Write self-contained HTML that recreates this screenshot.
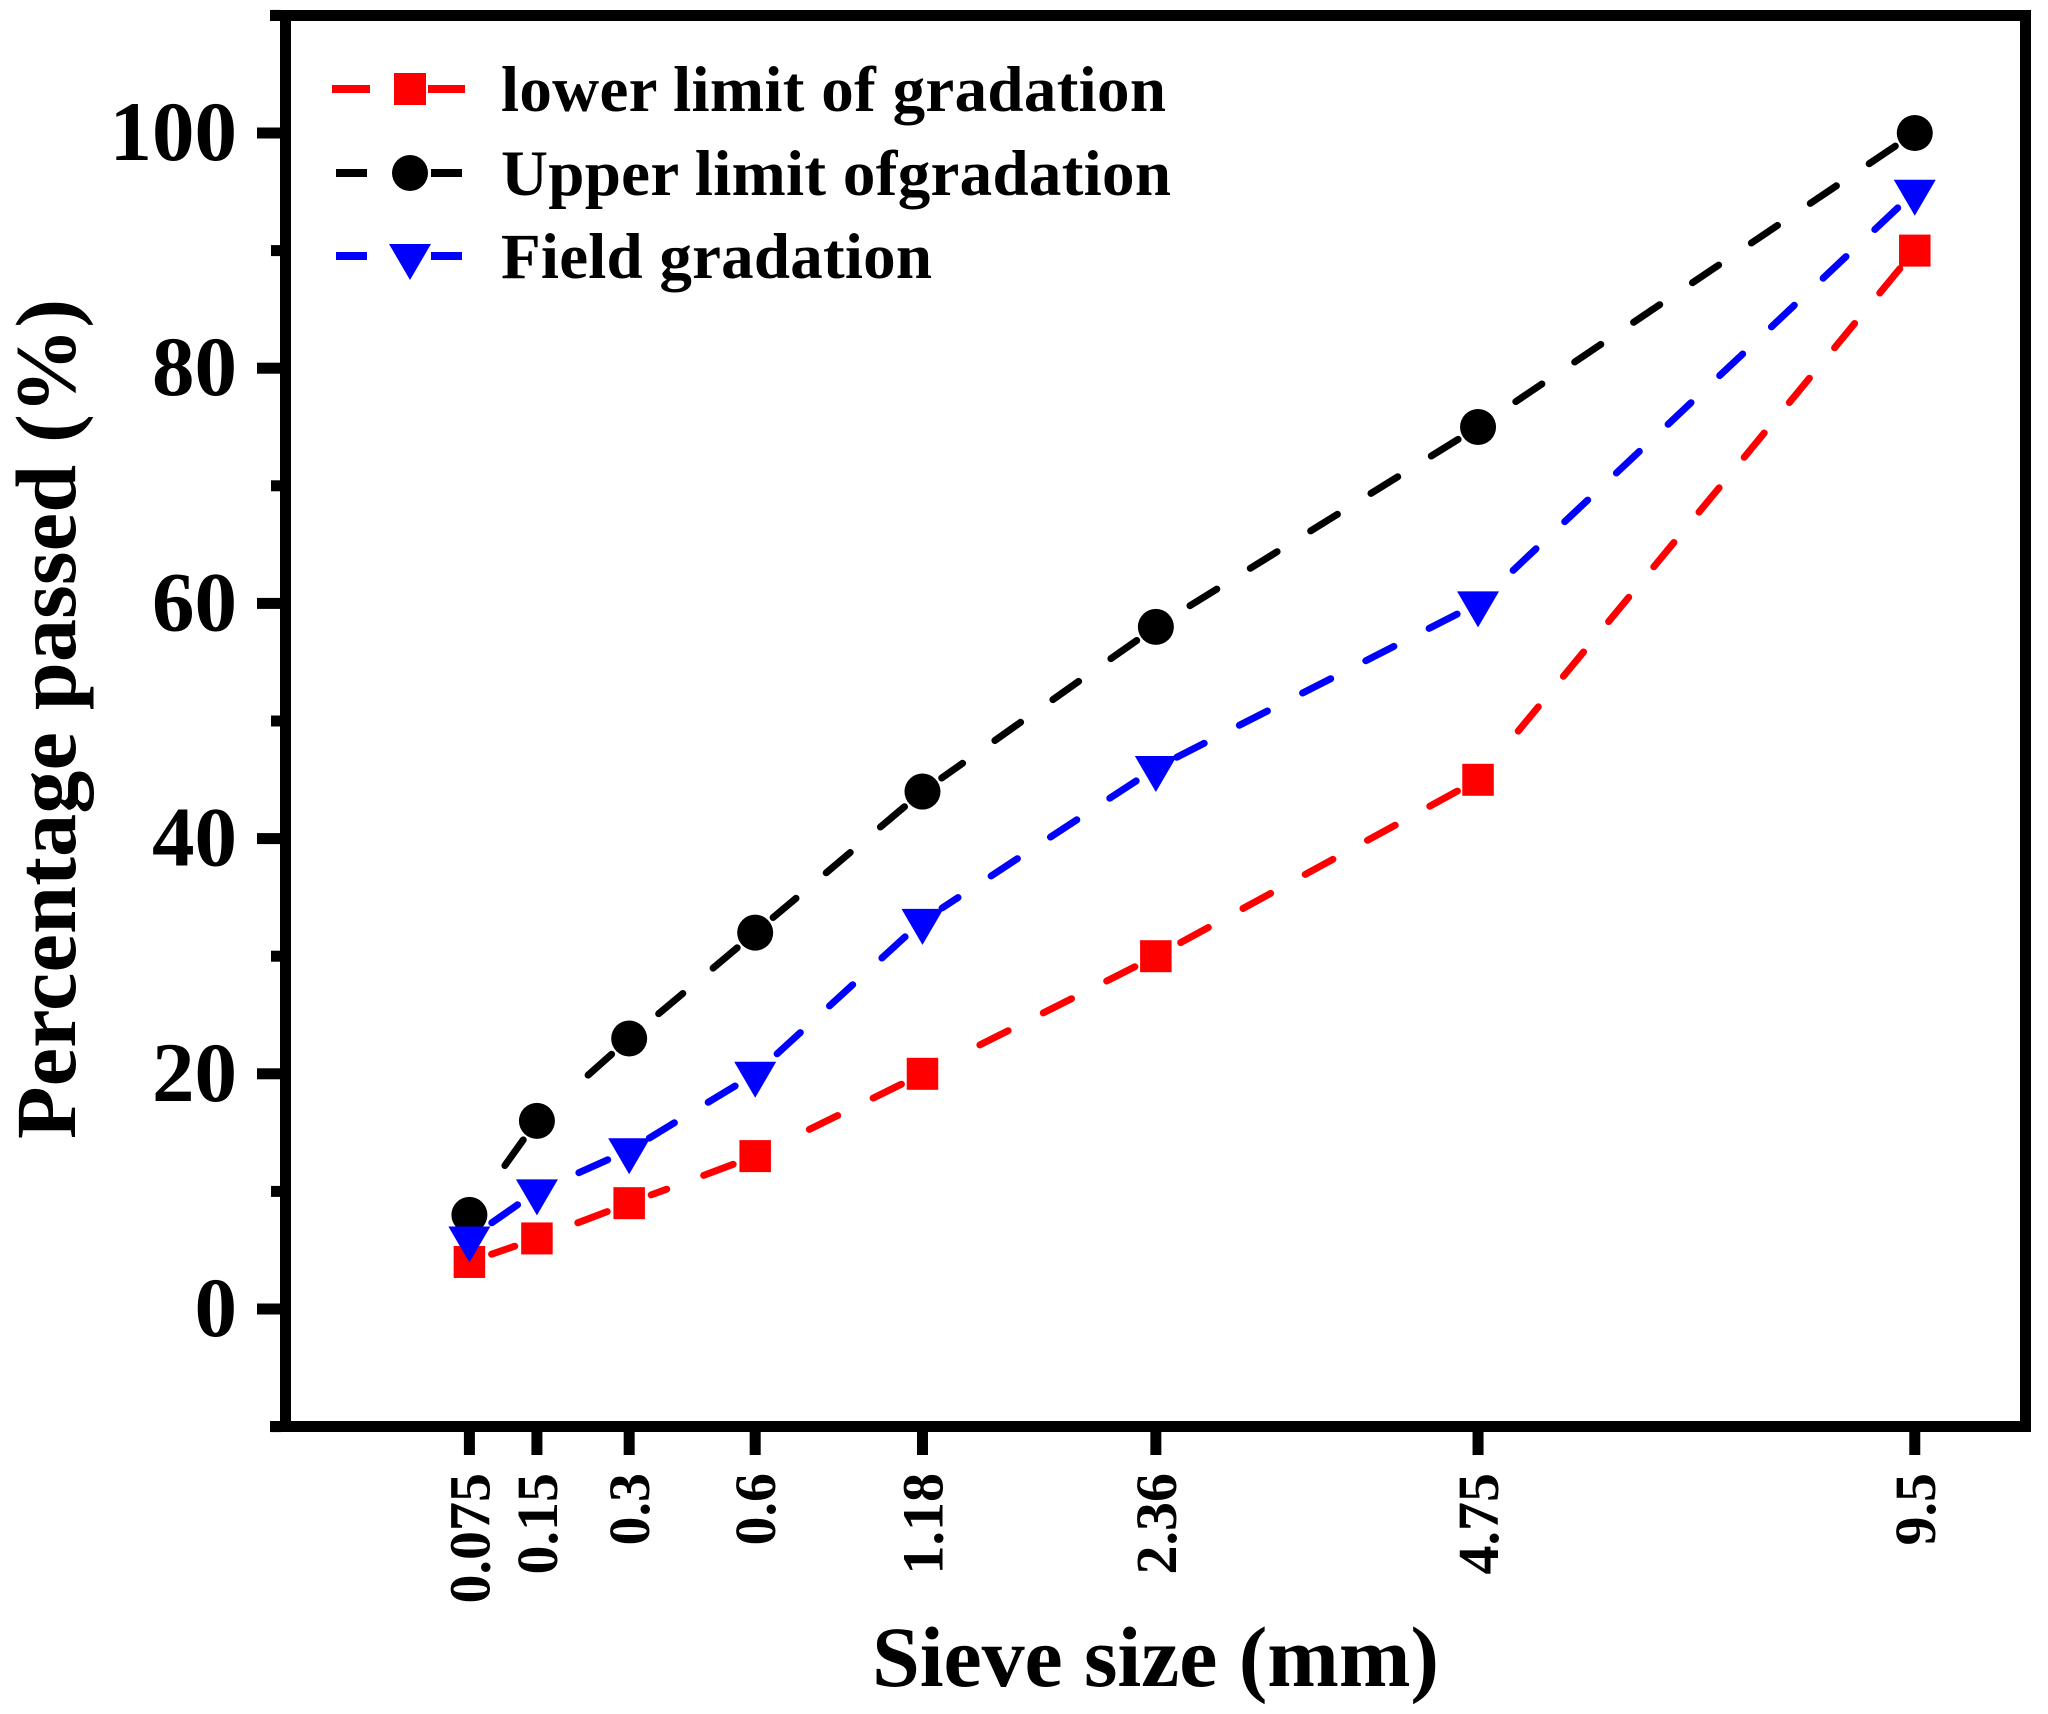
<!DOCTYPE html>
<html lang="en">
<head>
<meta charset="utf-8">
<title>Gradation chart</title>
<style>
html,body{margin:0;padding:0;background:#fff;width:2048px;height:1714px;overflow:hidden}
svg{display:block}
text{font-family:"Liberation Serif",serif;font-weight:bold;fill:#000}
</style>
</head>
<body>
<svg id="chart" xmlns="http://www.w3.org/2000/svg" width="2048" height="1714" viewBox="0 0 2048 1714">
  <rect x="0" y="0" width="2048" height="1714" fill="#fff"/>
  <g id="series-layer"></g>
  <g id="frame"></g>
  <g id="x-axis"></g>
  <g id="y-axis"></g>
  <text x="872" y="1686" font-size="86" textLength="567">Sieve size (mm)</text>
  <text transform="translate(75,1139) rotate(-90)" x="0" y="0" font-size="86" textLength="840">Percentage passed (%)</text>
  <g id="legend">
    <g>
      <rect x="332" y="85" width="38" height="8" fill="#f00"/>
      <rect x="428" y="85" width="37" height="8" fill="#f00"/>
      <rect x="394" y="73" width="32" height="32" fill="#f00"/>
      <text x="501" y="111" font-size="65" textLength="665">lower limit of gradation</text>
    </g>
    <g>
      <rect x="336" y="169" width="31" height="8" fill="#000"/>
      <rect x="431" y="169" width="31" height="8" fill="#000"/>
      <circle cx="410" cy="173" r="18" fill="#000"/>
      <text x="501" y="195" font-size="65" textLength="670">Upper limit ofgradation</text>
    </g>
    <g>
      <rect x="336" y="252" width="31" height="8" fill="#00f"/>
      <rect x="431" y="252" width="31" height="8" fill="#00f"/>
      <polygon points="389,244 431,244 410,280" fill="#00f"/>
      <text x="501" y="278" font-size="65" textLength="431">Field gradation</text>
    </g>
  </g>
</svg>
<script>
// Chart data
const sieveSizes = [0.075, 0.15, 0.3, 0.6, 1.18, 2.36, 4.75, 9.5];
const sieveLabels = ["0.075", "0.15", "0.3", "0.6", "1.18", "2.36", "4.75", "9.5"];
const lowerLimit = [4, 6, 9, 13, 20, 30, 45, 90];
const upperLimit = [8, 16, 23, 32, 44, 58, 75, 100];
const fieldGradation = [6, 10, 13.5, 20, 33, 46, 60, 95];
const yMajorTicks = [0, 20, 40, 60, 80, 100];
const yMinorTicks = [-10, 10, 30, 50, 70, 90, 110];

// Axis functions (x axis uses the 0.45-power gradation scale)
function xScale(d) {
  return 469.4 + 591.8 * (Math.pow(d, 0.45) - Math.pow(sieveSizes[0], 0.45));
}
function yScale(v) {
  return 1309 - 11.76 * v;
}

const NS = "http://www.w3.org/2000/svg";
function make(tag, attrs, parent) {
  const el = document.createElementNS(NS, tag);
  for (const k in attrs) el.setAttribute(k, attrs[k]);
  parent.appendChild(el);
  return el;
}

// Frame
const frame = document.getElementById("frame");
const frameTop = make("rect", {x: 270, y: 10, width: 1761, height: 11, fill: "#000"}, frame);


const frameBottom = make("rect", {x: 270, y: 1421, width: 1761, height: 11, fill: "#000"}, frame);


const frameLeft = make("rect", {x: 280, y: 10, width: 11, height: 1422, fill: "#000"}, frame);


const frameRight = make("rect", {x: 2020, y: 10, width: 11, height: 1422, fill: "#000"}, frame);



// Y axis
const yAxis = document.getElementById("y-axis");
yMajorTicks.forEach(function (v) {
  const y = yScale(v);
  const tick = make("rect", {x: 257, y: y - 5.5, width: 24, height: 11, fill: "#000"}, yAxis);
  
  
  const label = make("text", {x: 237, y: y + 27, "font-size": 85, "text-anchor": "end"}, yAxis);
  
  
  label.textContent = String(v);
});
yMinorTicks.forEach(function (v) {
  const tick = make("rect", {x: 271, y: yScale(v) - 5.5, width: 10, height: 11, fill: "#000"}, yAxis);
  
  
});

// X axis
const xAxis = document.getElementById("x-axis");
sieveSizes.forEach(function (d, i) {
  const x = xScale(d);
  const tick = make("rect", {x: x - 5.5, y: 1431, width: 11, height: 24, fill: "#000"}, xAxis);
  
  
  const label = make("text", {transform: "translate(" + (x + 20) + ",1473) rotate(-90)", x: 0, y: 0, "font-size": 58, "text-anchor": "end"}, xAxis);
  
  
  label.textContent = sieveLabels[i];
});

// Dashes: anchored to each segment's end and clipped at the marker gap
const DASH = 31.5, PERIOD = 71, GAP = 23.5, MIN_DASH = 8;
function dashPath(values) {
  let d = "";
  for (let i = 0; i < values.length - 1; i++) {
    const ax = xScale(sieveSizes[i]), ay = yScale(values[i]);
    const bx = xScale(sieveSizes[i + 1]), by = yScale(values[i + 1]);
    const L = Math.hypot(bx - ax, by - ay);
    const ux = (bx - ax) / L, uy = (by - ay) / L;
    for (let e = L - GAP; e > GAP; e -= PERIOD) {
      const s = Math.max(e - DASH, GAP);
      if (e - s < MIN_DASH) continue;
      d += "M" + (ax + ux * s).toFixed(1) + " " + (ay + uy * s).toFixed(1) +
           "L" + (ax + ux * e).toFixed(1) + " " + (ay + uy * e).toFixed(1);
    }
  }
  return d;
}

const layer = document.getElementById("series-layer");

function drawLine(values, color, parent) {
  return make("path", {d: dashPath(values), fill: "none", stroke: color, "stroke-width": 7, "stroke-linecap": "round"}, parent);
}

// Lower limit series
const lowerGroup = make("g", {}, layer);


const lowerLine = drawLine(lowerLimit, "#f00", lowerGroup);



// Upper limit series
const upperGroup = make("g", {}, layer);


const upperLine = drawLine(upperLimit, "#000", upperGroup);



// Field series
const fieldGroup = make("g", {}, layer);


const fieldLine = drawLine(fieldGradation, "#00f", fieldGroup);



// Markers
lowerLimit.forEach(function (v, i) {
  const x = xScale(sieveSizes[i]), y = yScale(v);
  const m = make("rect", {x: x - 15.75, y: y - 16, width: 31.5, height: 32, fill: "#f00"}, lowerGroup);
  
  
});
upperLimit.forEach(function (v, i) {
  const x = xScale(sieveSizes[i]), y = yScale(v);
  const m = make("circle", {cx: x, cy: y, r: 18, fill: "#000"}, upperGroup);
  
  
});
fieldGradation.forEach(function (v, i) {
  const x = xScale(sieveSizes[i]), y = yScale(v);
  const pts = (x - 21) + "," + (y - 12) + " " + (x + 21) + "," + (y - 12) + " " + x + "," + (y + 24);
  const m = make("polygon", {points: pts, fill: "#00f"}, fieldGroup);
  
  
});
</script>
</body>
</html>
